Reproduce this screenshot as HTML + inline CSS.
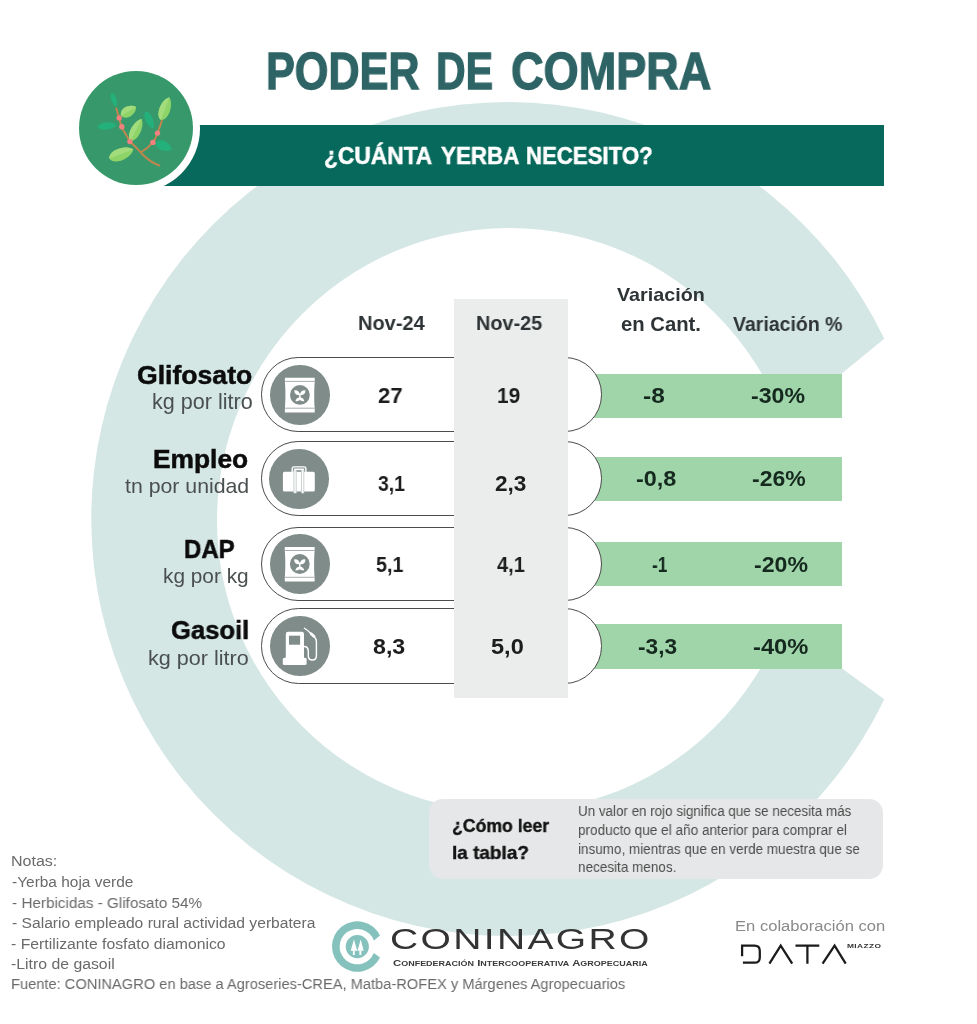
<!DOCTYPE html>
<html lang="es"><head><meta charset="utf-8"><title>Poder de compra</title>
<style>
html,body{margin:0;padding:0;background:#fff}
#page{position:relative;width:977px;height:1024px;overflow:hidden;background:#fff;font-family:"Liberation Sans",sans-serif}
.abs{position:absolute}
.t{position:absolute;white-space:nowrap;transform-origin:0 0;will-change:transform}
.pill{background:#fff;border:1.25px solid #4b4b4b;box-sizing:border-box}
</style></head>
<body><div id="page">
<svg class="abs" width="977" height="1024" viewBox="0 0 977 1024" style="left:0;top:0">
<path d="M884.3,338.8 A417,417 0 1 0 884.3,699.2 L842,668.6 L836,650 L770.5,650 A292,292 0 1 1 771.4,392 L836,392 L841.8,373.4 Z" fill="#d4e7e4"/>
</svg>
<div class="abs" style="left:150px;top:125px;width:734.0px;height:60.6px;background:#07695b"></div>
<div class="abs" style="left:72.8px;top:64.9px;width:127px;height:127px;border-radius:50%;background:#fff"></div>
<div class="abs" style="left:79.3px;top:71.4px;width:114px;height:114px;border-radius:50%;background:#37996b"></div>
<div class="abs" style="left:585px;top:373.6px;width:257px;height:44.5px;background:#9fd5a9"></div>
<div class="abs" style="left:585px;top:456.6px;width:257px;height:44.5px;background:#9fd5a9"></div>
<div class="abs" style="left:585px;top:541.8px;width:257px;height:44.5px;background:#9fd5a9"></div>
<div class="abs" style="left:585px;top:624.0px;width:257px;height:44.5px;background:#9fd5a9"></div>
<div class="abs pill" style="left:261.2px;top:357.4px;width:340.4px;height:74.3px;border-radius:37.15px"></div>
<div class="abs pill" style="left:261.2px;top:441.3px;width:340.4px;height:74.3px;border-radius:37.15px"></div>
<div class="abs pill" style="left:261.2px;top:526.6px;width:340.4px;height:74.3px;border-radius:37.15px"></div>
<div class="abs pill" style="left:261.2px;top:608.4px;width:340.4px;height:75.3px;border-radius:37.65px"></div>
<div class="abs" style="left:454px;top:298.7px;width:113.9px;height:399.2px;background:#ebecec"></div>
<div class="abs" style="left:270.1px;top:365.1px;width:59.6px;height:59.6px;border-radius:50%;background:#7f8c8a"></div>
<div class="abs" style="left:269.3px;top:449.0px;width:59.6px;height:59.6px;border-radius:50%;background:#7f8c8a"></div>
<div class="abs" style="left:270.0px;top:534.2px;width:59.6px;height:59.6px;border-radius:50%;background:#7f8c8a"></div>
<div class="abs" style="left:270.0px;top:616.4px;width:59.6px;height:59.6px;border-radius:50%;background:#7f8c8a"></div>
<div class="abs" style="left:428.6px;top:798.8px;width:454.8px;height:80.3px;border-radius:14px;background:#e6e7e8"></div>
<svg class="abs" width="977" height="1024" viewBox="0 0 977 1024" style="left:0;top:0">
<g id="yerba"><g transform="translate(114,99.8) rotate(72)"><path d="M-7.1,0 C-6.034999999999999,-3.5100000000000002 3.9050000000000002,-3.5100000000000002 7.1,0 C3.9050000000000002,3.5100000000000002 -6.034999999999999,3.5100000000000002 -7.1,0Z" fill="#24b07b"/></g><g transform="translate(107.2,125.9) rotate(-6.5)"><path d="M-9.6,0 C-8.16,-4.9399999999999995 5.28,-4.9399999999999995 9.6,0 C5.28,4.9399999999999995 -8.16,4.9399999999999995 -9.6,0Z" fill="#24b07b"/></g><g transform="translate(149.4,120.2) rotate(64.6)"><path d="M-9.2,0 C-7.819999999999999,-4.680000000000001 5.06,-4.680000000000001 9.2,0 C5.06,4.680000000000001 -7.819999999999999,4.680000000000001 -9.2,0Z" fill="#24b07b"/></g><g transform="translate(163.7,145.9) rotate(24)"><path d="M-8.6,0 C-7.31,-6.24 4.73,-6.24 8.6,0 C4.73,6.24 -7.31,6.24 -8.6,0Z" fill="#24b07b"/></g><path d="M159.4,165.5 C151,162.5 146,158 142,153.7 C137,148.5 133,144 129.8,141.6 C126,134 123.5,131 121.6,126.8 C120,122 119.5,120 119.2,117.9 L116.3,108.5" fill="none" stroke="#c2854f" stroke-width="2" stroke-linecap="round" stroke-linejoin="round"/><path d="M141.1,152 C146,149.5 150,146 152.9,142.4 C155.5,139 156.5,136 157.5,133.1 C159.5,128 161,124 162,119.8" fill="none" stroke="#c2854f" stroke-width="1.9" stroke-linecap="round"/><g transform="translate(128.6,111.4) rotate(-30.5)"><path d="M-8.7,0 C-7.395,-6.89 4.785,-6.89 8.7,0 C4.785,6.89 -7.395,6.89 -8.7,0Z" fill="#8fd468"/><path d="M-8.7,0 C-7.395,-6.89 4.785,-6.89 8.7,0Z" fill="#a3dc7c"/></g><g transform="translate(136.1,129.9) rotate(-63)"><path d="M-12.1,0 C-10.285,-6.63 6.655,-6.63 12.1,0 C6.655,6.63 -10.285,6.63 -12.1,0Z" fill="#8fd468"/><path d="M-12.1,0 C-10.285,-6.63 6.655,-6.63 12.1,0Z" fill="#a3dc7c"/></g><g transform="translate(165.1,108.6) rotate(-70)"><path d="M-12.1,0 C-10.285,-7.15 6.655,-7.15 12.1,0 C6.655,7.15 -10.285,7.15 -12.1,0Z" fill="#8fd468"/><path d="M-12.1,0 C-10.285,-7.15 6.655,-7.15 12.1,0Z" fill="#a3dc7c"/></g><g transform="translate(121.3,154.0) rotate(-20.9)"><path d="M-12.9,0 C-10.965,-8.06 7.095000000000001,-8.06 12.9,0 C7.095000000000001,8.06 -10.965,8.06 -12.9,0Z" fill="#8fd468"/><path d="M-12.9,0 C-10.965,-8.06 7.095000000000001,-8.06 12.9,0Z" fill="#a3dc7c"/></g><circle cx="119.2" cy="117.9" r="2.7" fill="#f2807f"/><circle cx="121.8" cy="126.8" r="2.7" fill="#f2807f"/><circle cx="129.9" cy="141.6" r="2.7" fill="#f2807f"/><circle cx="152.9" cy="142.4" r="2.7" fill="#f2807f"/><circle cx="157.5" cy="133.1" r="2.7" fill="#f2807f"/></g>
<g transform="translate(299.9,394.9)"><path d="M-15,-17.1 H14.8 V-13 C14.2,-6 14.2,6 14.8,13.4 V17.5 H-15 V13.4 C-14.3,6 -14.3,-6 -15,-13 Z" fill="#fff"/><path d="M-14.8,-13.5 H14.7 M-14.8,13.3 H14.7" stroke="#7f8c8a" stroke-width="0.7" fill="none"/><circle cx="0" cy="0" r="9.9" fill="#7f8c8a"/><path d="M-0.2,0.3 C-4.6,0.4 -5.8,-2.2 -5.5,-4.6 C-2.2,-4.9 -0.2,-3.2 -0.2,0.3Z M0.2,0.3 C4.6,0.4 5.8,-2.2 5.5,-4.6 C2.2,-4.9 0.2,-3.2 0.2,0.3Z" fill="#fff"/><path d="M-0.75,-1.5 H0.75 V3.6 H-0.75Z" fill="#fff"/><path d="M0,2.4 C-2.6,2.6 -4.2,4.2 -4.4,6.4 C-2.6,6.5 -1,6.0 0,5.2 C1,6.0 2.6,6.5 4.4,6.4 C4.2,4.2 2.6,2.6 0,2.4Z" fill="#fff"/></g>
<g transform="translate(299.8,564.0)"><path d="M-15,-17.1 H14.8 V-13 C14.2,-6 14.2,6 14.8,13.4 V17.5 H-15 V13.4 C-14.3,6 -14.3,-6 -15,-13 Z" fill="#fff"/><path d="M-14.8,-13.5 H14.7 M-14.8,13.3 H14.7" stroke="#7f8c8a" stroke-width="0.7" fill="none"/><circle cx="0" cy="0" r="9.9" fill="#7f8c8a"/><path d="M-0.2,0.3 C-4.6,0.4 -5.8,-2.2 -5.5,-4.6 C-2.2,-4.9 -0.2,-3.2 -0.2,0.3Z M0.2,0.3 C4.6,0.4 5.8,-2.2 5.5,-4.6 C2.2,-4.9 0.2,-3.2 0.2,0.3Z" fill="#fff"/><path d="M-0.75,-1.5 H0.75 V3.6 H-0.75Z" fill="#fff"/><path d="M0,2.4 C-2.6,2.6 -4.2,4.2 -4.4,6.4 C-2.6,6.5 -1,6.0 0,5.2 C1,6.0 2.6,6.5 4.4,6.4 C4.2,4.2 2.6,2.6 0,2.4Z" fill="#fff"/></g>
<g transform="translate(299.1,478.8)"><rect x="-6.9" y="-11.9" width="13.7" height="8" rx="1.8" fill="none" stroke="#fff" stroke-width="1.4"/><rect x="-5.2" y="-10.3" width="10.3" height="1.7" fill="#fff"/><rect x="-16.2" y="-7" width="31.9" height="19.8" rx="1.6" fill="#fff"/><rect x="-5.5" y="-8.6" width="2.9" height="23" fill="#fff"/><rect x="2.1" y="-8.6" width="2.9" height="23" fill="#fff"/><path d="M-5.2,-8.4 V14.3 M-2.9,-8.4 V14.3 M2.4,-8.4 V14.3 M4.7,-8.4 V14.3" stroke="#b4bbbb" stroke-width="0.7" fill="none"/></g>
<g transform="translate(299.9,646.1)"><path d="M-14.1,11.9 V-12.1 Q-14.1,-14.3 -11.9,-14.3 H1.9 Q4.1,-14.3 4.1,-12.1 V11.9Z" fill="#fff"/><rect x="-17.1" y="11.6" width="23.8" height="7.3" rx="1.6" fill="#fff"/><rect x="-10.9" y="-10.4" width="11.1" height="9" fill="#7f8c8a"/><path d="M4.1,0.4 C7.2,0.4 8.3,2.2 8.4,5 V9.6 C8.4,12.4 10,13.9 12.4,13.9 C14.9,13.9 16.5,12.4 16.5,9.6 V-4.5 C16.5,-6.8 15.6,-8.2 14.2,-9.6" fill="none" stroke="#fff" stroke-width="1.45" stroke-linecap="round"/><path d="M14.2,-9.6 L11.2,-12.4" stroke="#fff" stroke-width="2.7" stroke-linecap="round" fill="none"/><path d="M11.2,-12.4 C9,-14.6 6.6,-16.6 4.5,-17.8" stroke="#fff" stroke-width="1.3" stroke-linecap="round" fill="none"/></g>
<g transform="translate(357.3,946.6) scale(0.06058) translate(-509,-520)"><path d="M884.3,338.8 A417,417 0 1 0 884.3,699.2 L781.5,624.9 A292,292 0 1 1 783.6,420.8 Z" fill="#86c2bd"/></g>
<circle cx="357.3" cy="946.6" r="11.6" fill="#86c2bd"/>
<g transform="translate(357.3,946.6)" fill="#fff"><path d="M-3.4,-7 L-0.1,4.1 H-6.6Z M3.4,-7 L6.4,4.1 H0.2Z"/><rect x="-4.4" y="4" width="1.8" height="4.4"/><rect x="2.1" y="4" width="1.9" height="4.4"/></g>
<g fill="none" stroke="#1b1b1b" stroke-width="2.25" stroke-linejoin="miter"><path d="M742.1,956.3 V945.5 H754.5 Q759.8,945.5 759.8,950.8 V957.4 Q759.8,962.7 754.5,962.7 H742.9"/><path d="M769.4,963.7 L780.7,945.6 L792.2,963.7" stroke-miterlimit="10"/><path d="M795.5,945.5 H819.3 M807.4,945.5 V963.7"/><path d="M822.6,963.7 L834.6,945.6 L845.7,963.7" stroke-miterlimit="10"/></g>
</svg>
<div class="t" style="left:265.73px;top:44.92px;font-size:52.61px;line-height:52.61px;transform:scaleX(0.8208);color:#2f6466;font-weight:700;-webkit-text-stroke:1.3px #2f6466;">PODER</div>
<div class="t" style="left:436.04px;top:44.92px;font-size:52.61px;line-height:52.61px;transform:scaleX(0.7808);color:#2f6466;font-weight:700;-webkit-text-stroke:1.3px #2f6466;">DE</div>
<div class="t" style="left:510.75px;top:44.92px;font-size:52.61px;line-height:52.61px;transform:scaleX(0.8567);color:#2f6466;font-weight:700;-webkit-text-stroke:1.3px #2f6466;">COMPRA</div>
<div class="t" style="left:324.28px;top:144.46px;font-size:24.20px;line-height:24.20px;transform:scaleX(0.9406);color:#fff;font-weight:700;-webkit-text-stroke:0.5px #fff;">¿CUÁNTA</div>
<div class="t" style="left:440.58px;top:144.46px;font-size:24.20px;line-height:24.20px;transform:scaleX(0.9249);color:#fff;font-weight:700;-webkit-text-stroke:0.5px #fff;">YERBA</div>
<div class="t" style="left:526.29px;top:144.46px;font-size:24.20px;line-height:24.20px;transform:scaleX(0.9176);color:#fff;font-weight:700;-webkit-text-stroke:0.5px #fff;">NECESITO?</div>
<div class="t" style="left:357.90px;top:312.66px;font-size:20.72px;line-height:20.72px;transform:scaleX(0.9665);color:#2e3436;font-weight:700;">Nov-24</div>
<div class="t" style="left:476.31px;top:312.66px;font-size:20.72px;line-height:20.72px;transform:scaleX(0.9591);color:#2e3436;font-weight:700;">Nov-25</div>
<div class="t" style="left:617.10px;top:284.81px;font-size:19.13px;line-height:19.13px;transform:scaleX(1.0335);color:#2e3436;font-weight:700;">Variación</div>
<div class="t" style="left:621.29px;top:313.67px;font-size:20.00px;line-height:20.00px;transform:scaleX(1.0130);color:#2e3436;font-weight:700;">en Cant.</div>
<div class="t" style="left:733.20px;top:313.67px;font-size:20.00px;line-height:20.00px;transform:scaleX(0.9749);color:#2e3436;font-weight:700;">Variación %</div>
<div class="t" style="left:377.63px;top:383.87px;font-size:22.71px;line-height:22.71px;transform:scaleX(0.9698);color:#1d1d1d;font-weight:700;">27</div>
<div class="t" style="left:497.35px;top:383.87px;font-size:22.71px;line-height:22.71px;transform:scaleX(0.9152);color:#1d1d1d;font-weight:700;">19</div>
<div class="t" style="left:642.62px;top:383.87px;font-size:22.71px;line-height:22.71px;transform:scaleX(1.0792);color:#16291f;font-weight:700;">-8</div>
<div class="t" style="left:750.97px;top:383.87px;font-size:22.71px;line-height:22.71px;transform:scaleX(1.0182);color:#16291f;font-weight:700;">-30%</div>
<div class="t" style="left:378.11px;top:472.89px;font-size:22.57px;line-height:22.57px;transform:scaleX(0.8596);color:#1d1d1d;font-weight:700;">3,1</div>
<div class="t" style="left:494.51px;top:472.89px;font-size:22.57px;line-height:22.57px;transform:scaleX(0.9968);color:#1d1d1d;font-weight:700;">2,3</div>
<div class="t" style="left:636.36px;top:469.06px;font-size:21.43px;line-height:21.43px;transform:scaleX(1.0945);color:#16291f;font-weight:700;">-0,8</div>
<div class="t" style="left:751.88px;top:469.06px;font-size:21.43px;line-height:21.43px;transform:scaleX(1.0731);color:#16291f;font-weight:700;">-26%</div>
<div class="t" style="left:376.11px;top:554.21px;font-size:22.43px;line-height:22.43px;transform:scaleX(0.8784);color:#1d1d1d;font-weight:700;">5,1</div>
<div class="t" style="left:497.30px;top:554.21px;font-size:22.43px;line-height:22.43px;transform:scaleX(0.8917);color:#1d1d1d;font-weight:700;">4,1</div>
<div class="t" style="left:651.81px;top:554.21px;font-size:22.43px;line-height:22.43px;transform:scaleX(0.7728);color:#16291f;font-weight:700;">-1</div>
<div class="t" style="left:753.87px;top:554.21px;font-size:22.43px;line-height:22.43px;transform:scaleX(1.0312);color:#16291f;font-weight:700;">-20%</div>
<div class="t" style="left:372.80px;top:635.54px;font-size:22.29px;line-height:22.29px;transform:scaleX(1.0397);color:#1d1d1d;font-weight:700;">8,3</div>
<div class="t" style="left:491.19px;top:635.54px;font-size:22.29px;line-height:22.29px;transform:scaleX(1.0572);color:#1d1d1d;font-weight:700;">5,0</div>
<div class="t" style="left:637.79px;top:635.54px;font-size:22.29px;line-height:22.29px;transform:scaleX(1.0175);color:#16291f;font-weight:700;">-3,3</div>
<div class="t" style="left:752.95px;top:635.54px;font-size:22.29px;line-height:22.29px;transform:scaleX(1.0655);color:#16291f;font-weight:700;">-40%</div>
<div class="t" style="left:137.39px;top:361.66px;font-size:26.57px;line-height:26.57px;transform:scaleX(1.0012);color:#0c0c0c;font-weight:700;-webkit-text-stroke:0.5px #0c0c0c;">Glifosato</div>
<div class="t" style="left:152.10px;top:392.42px;font-size:21.24px;line-height:21.24px;transform:scaleX(1.0159);color:#4a4f4f;">kg por litro</div>
<div class="t" style="left:153.04px;top:445.74px;font-size:26.23px;line-height:26.23px;transform:scaleX(1.0049);color:#0c0c0c;font-weight:700;-webkit-text-stroke:0.5px #0c0c0c;">Empleo</div>
<div class="t" style="left:124.58px;top:475.24px;font-size:21.10px;line-height:21.10px;transform:scaleX(1.0086);color:#4a4f4f;">tn por unidad</div>
<div class="t" style="left:183.77px;top:535.70px;font-size:26.52px;line-height:26.52px;transform:scaleX(0.9047);color:#0c0c0c;font-weight:700;-webkit-text-stroke:0.5px #0c0c0c;">DAP</div>
<div class="t" style="left:162.75px;top:565.62px;font-size:20.41px;line-height:20.41px;transform:scaleX(1.0203);color:#4a4f4f;">kg por kg</div>
<div class="t" style="left:170.62px;top:616.96px;font-size:26.57px;line-height:26.57px;transform:scaleX(0.9634);color:#0c0c0c;font-weight:700;-webkit-text-stroke:0.5px #0c0c0c;">Gasoil</div>
<div class="t" style="left:147.60px;top:647.80px;font-size:20.55px;line-height:20.55px;transform:scaleX(1.0500);color:#4a4f4f;">kg por litro</div>
<div class="t" style="left:452.41px;top:816.18px;font-size:19.28px;line-height:19.28px;transform:scaleX(0.9166);color:#141414;font-weight:700;-webkit-text-stroke:0.4px #141414;">¿Cómo leer</div>
<div class="t" style="left:452.07px;top:843.18px;font-size:19.28px;line-height:19.28px;transform:scaleX(0.9836);color:#141414;font-weight:700;-webkit-text-stroke:0.4px #141414;">la tabla?</div>
<div class="t" style="left:578.20px;top:803.32px;font-size:15.22px;line-height:15.22px;transform:scaleX(0.8803);color:#4d4d4d;">Un valor en rojo significa que se necesita más</div>
<div class="t" style="left:578.32px;top:822.47px;font-size:15.03px;line-height:15.03px;transform:scaleX(0.9053);color:#4d4d4d;">producto que el año anterior para comprar el</div>
<div class="t" style="left:578.32px;top:841.17px;font-size:15.03px;line-height:15.03px;transform:scaleX(0.8980);color:#4d4d4d;">insumo, mientras que en verde muestra que se</div>
<div class="t" style="left:578.32px;top:859.35px;font-size:15.53px;line-height:15.53px;transform:scaleX(0.8703);color:#4d4d4d;">necesita menos.</div>
<div class="t" style="left:10.92px;top:853.10px;font-size:15.36px;line-height:15.36px;transform:scaleX(1.0429);color:#6a6a6a;">Notas:</div>
<div class="t" style="left:11.50px;top:874.00px;font-size:15.36px;line-height:15.36px;transform:scaleX(1.0060);color:#6a6a6a;">-Yerba hoja verde</div>
<div class="t" style="left:11.51px;top:894.90px;font-size:15.36px;line-height:15.36px;transform:scaleX(0.9940);color:#6a6a6a;">- Herbicidas - Glifosato 54%</div>
<div class="t" style="left:11.50px;top:915.00px;font-size:15.36px;line-height:15.36px;transform:scaleX(1.0184);color:#6a6a6a;">- Salario empleado rural actividad yerbatera</div>
<div class="t" style="left:11.49px;top:935.60px;font-size:15.36px;line-height:15.36px;transform:scaleX(1.0262);color:#6a6a6a;">- Fertilizante fosfato diamonico</div>
<div class="t" style="left:11.49px;top:955.80px;font-size:15.36px;line-height:15.36px;transform:scaleX(1.0292);color:#6a6a6a;">-Litro de gasoil</div>
<div class="t" style="left:11.03px;top:976.20px;font-size:15.36px;line-height:15.36px;transform:scaleX(0.9542);color:#6a6a6a;">Fuente: CONINAGRO en base a Agroseries-CREA, Matba-ROFEX y Márgenes Agropecuarios</div>
<div class="t" style="left:389.65px;top:924.75px;font-size:29.00px;line-height:29.00px;transform:scaleX(1.3461);color:#333;letter-spacing:0.060em;">CONINAGRO</div>
<div class="t" style="left:392.55px;top:957.87px;font-size:9.60px;line-height:9.60px;transform:scaleX(1.1812);color:#3a3a3a;font-weight:700;word-spacing:0.63px">C<span style="font-size:7.60px">ONFEDERACIÓN </span>I<span style="font-size:7.60px">NTERCOOPERATIVA </span>A<span style="font-size:7.60px">GROPECUARIA</span></div>
<div class="t" style="left:735.27px;top:918.10px;font-size:15.36px;line-height:15.36px;transform:scaleX(1.0792);color:#8a8a8a;">En colaboración con</div>
<div class="t" style="left:846.56px;top:944.07px;font-size:5.94px;line-height:5.94px;transform:scaleX(1.4056);color:#333;font-weight:700;letter-spacing:0.050em;">MIAZZO</div>
</div></body></html>
